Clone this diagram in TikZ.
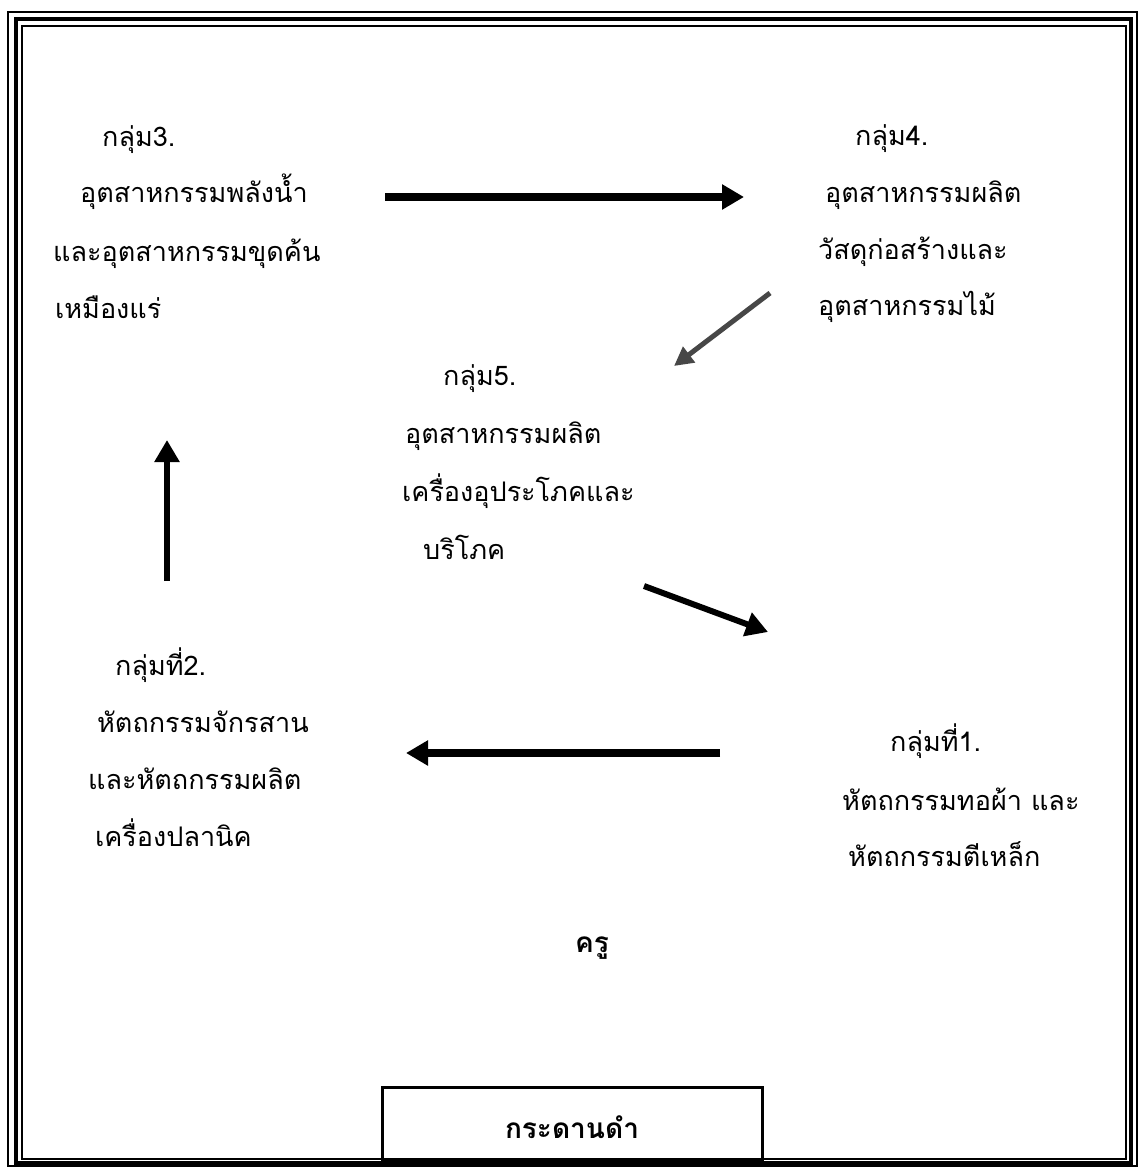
\documentclass[tikz,border=0pt]{standalone}
\usepackage{fontspec}
\newfontfamily\thaifont[Script=Thai]{Loma}
\usetikzlibrary{arrows.meta}
\begin{document}
\begin{tikzpicture}[x=1pt,y=-1pt,
  lbl/.style={anchor=base west, inner sep=0pt, font=\thaifont\fontsize{27}{30}\selectfont},
  boldlbl/.style={anchor=base, inner sep=0pt, font=\thaifont\bfseries\fontsize{28}{30}\selectfont},
  bigarrow/.style={line width=8pt, -{Triangle[length=22pt,width=24pt]}},
  midarrow/.style={line width=6pt, -{Triangle[length=22pt,width=24pt]}},
  grayarrow/.style={line width=5pt, draw=black!72, -{Triangle[length=19pt,width=19pt]}},
  frameouter/.style={line width=2pt},
  framethick/.style={line width=4pt},
  frameinner/.style={line width=1.5pt},
  boardbox/.style={line width=3pt}]
\useasboundingbox (0,0) rectangle (1142,1169);
\fill[white] (0,0) rectangle (1142,1169);
% frame
\draw[frameouter] (8,12) rectangle (1137,1166);
\draw[framethick] (16,19) rectangle (1131,1163);
\draw[frameinner] (22,26) rectangle (1126,1159);
% group 3
\node[lbl] (g3a) at (102,147) {กลุ่ม3.};
\node[lbl] (g3b) at (80,202) {อุตสาหกรรมพลังน้ำ};
\node[lbl] (g3c) at (53,261) {และอุตสาหกรรมขุดค้น};
\node[lbl] (g3d) at (55,318) {เหมืองแร่};
% group 4
\node[lbl] (g4a) at (855,146) {กลุ่ม4.};
\node[lbl] (g4b) at (825,202) {อุตสาหกรรมผลิต};
\node[lbl] (g4c) at (818,259) {วัสดุก่อสร้างและ};
\node[lbl] (g4d) at (818,315) {อุตสาหกรรมไม้};
% group 5
\node[lbl] (g5a) at (443,385) {กลุ่ม5.};
\node[lbl] (g5b) at (405,443) {อุตสาหกรรมผลิต};
\node[lbl] (g5c) at (402,501) {เครื่องอุประโภคและ};
\node[lbl] (g5d) at (423,559) {บริโภค};
% group 2
\node[lbl] (g2a) at (115,675) {กลุ่มที่2.};
\node[lbl] (g2b) at (97,732) {หัตถกรรมจักรสาน};
\node[lbl] (g2c) at (88,789) {และหัตถกรรมผลิต};
\node[lbl] (g2d) at (95,846) {เครื่องปลานิค};
% group 1
\node[lbl] (g1a) at (890,751) {กลุ่มที่1.};
\node[lbl] (g1b) at (842,810) {หัตถกรรมทอผ้า และ};
\node[lbl] (g1c) at (848,866) {หัตถกรรมตีเหล็ก};
% teacher and board
\node[boldlbl] (teacher) at (592,952) {ครู};
\draw[boardbox] (382,1087) rectangle (762,1160);
\node[boldlbl] (board) at (572,1138) {กระดานดำ};
% arrow end points
\coordinate (a1s) at (385,197);
\coordinate (a1e) at (744,197);
\coordinate (a2s) at (770,293);
\coordinate (a2e) at (674,366);
\coordinate (a3s) at (167,581);
\coordinate (a3e) at (167,440);
\coordinate (a4s) at (644,586);
\coordinate (a4e) at (768,632);
\coordinate (a5s) at (720,753);
\coordinate (a5e) at (406,753);
\draw[bigarrow] (a1s) -- (a1e);
\draw[grayarrow] (a2s) -- (a2e);
\draw[midarrow] (a3s) -- (a3e);
\draw[midarrow] (a4s) -- (a4e);
\draw[bigarrow] (a5s) -- (a5e);
\end{tikzpicture}
\end{document}
